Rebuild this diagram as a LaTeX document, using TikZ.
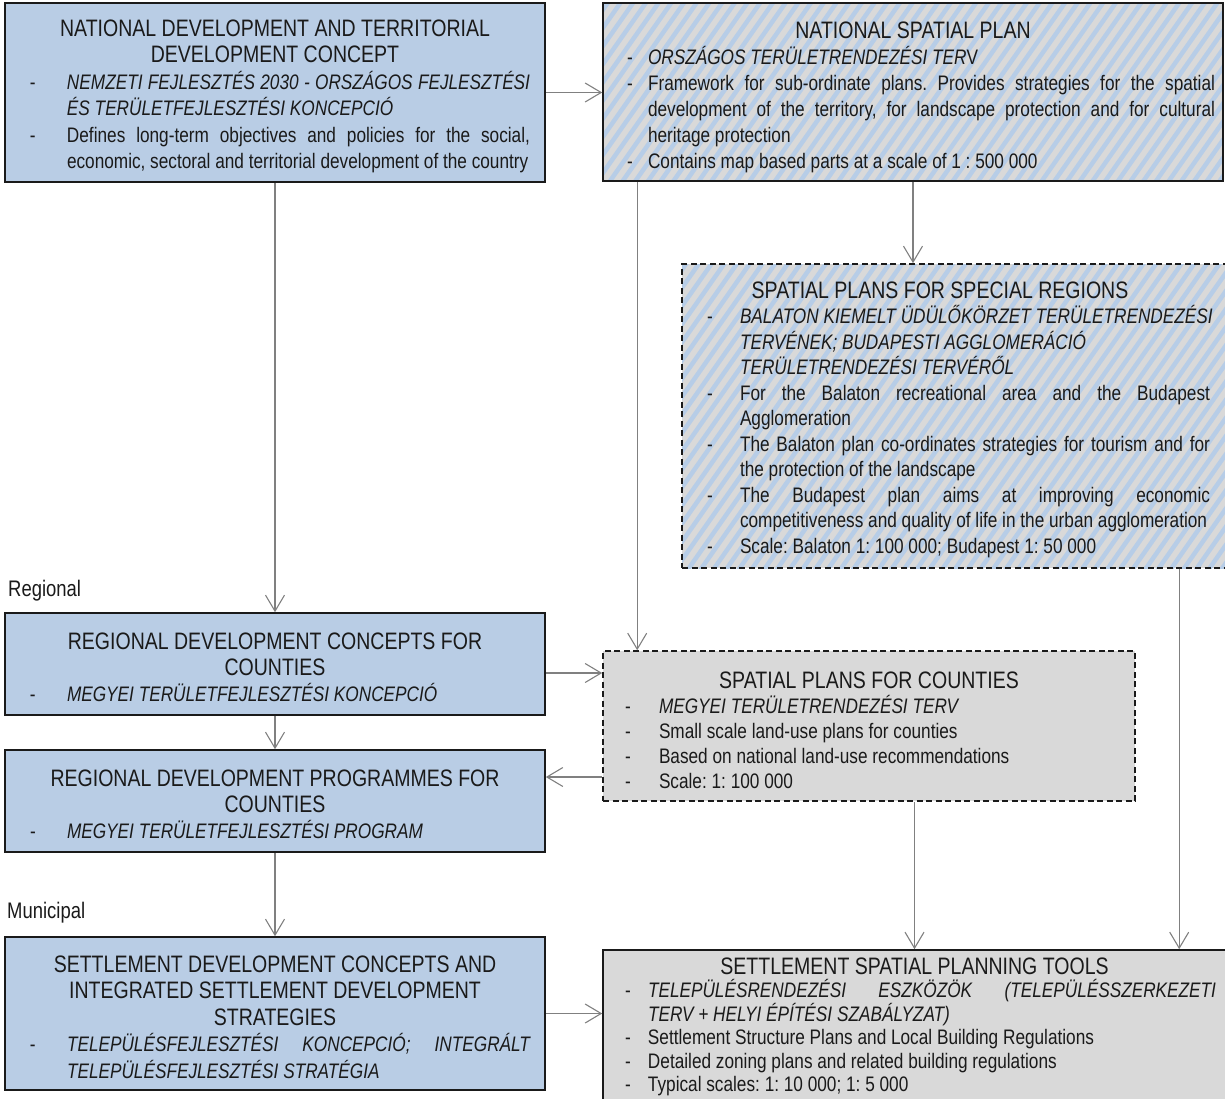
\documentclass[tikz,border=0pt]{standalone}
\usepackage{fontspec}
\setmainfont{Liberation Sans}[FakeStretch=0.82]
\usetikzlibrary{arrows.meta,calc}

\definecolor{boxblue}{HTML}{B9CDE5}
\definecolor{boxgray}{HTML}{D9D9D9}
\definecolor{stripeblue}{HTML}{B7CDE7}
\definecolor{linegray}{HTML}{808080}
\definecolor{ink}{HTML}{1A1A1A}

\newdimen\bxDoff \newdimen\bxInd \newdimen\bxRm \newdimen\bxTW
\newcommand\BodyFont{\fontsize{21}{25}\selectfont}
\newcommand\TitleFont{\fontsize{23.8}{25}\selectfont}
\newcommand\LabelFont{\fontsize{22.5}{25}\selectfont}
\newcommand\BoxSetup[6]{\hsize=#1pt \bxDoff=#2pt \bxInd=#3pt \bxRm=#4pt
  \bxTW=\hsize \advance\bxTW-\bxInd \advance\bxTW-\bxRm
  \baselineskip=#5pt \lineskiplimit=-30pt \lineskip=0pt \parindent=0pt
  \frenchspacing \vskip #6pt}
\newcommand\LnT[1]{\hbox to \hsize{\hss\TitleFont #1\hss}}
\newcommand\LnTS[2]{\hbox to \hsize{\hss\TitleFont #2\hss\hskip#1pt}}
\newcommand\LnDash{\hbox to \bxInd{\hskip\bxDoff\BodyFont -\hss}}
\newcommand\LnD[1]{\hbox to \hsize{\LnDash\BodyFont #1\hss}}
\newcommand\LnDJ[1]{\hbox to \hsize{\LnDash\hbox to \bxTW{\BodyFont #1}\hss}}
\newcommand\LnC[1]{\hbox to \hsize{\hskip\bxInd\BodyFont #1\hss}}
\newcommand\LnCJ[1]{\hbox to \hsize{\hskip\bxInd\hbox to \bxTW{\BodyFont #1}\hss}}

\tikzset{
  bx/.style={rectangle, draw=ink, line width=1.6pt, inner sep=0pt, text=ink},
  bluebox/.style={bx, fill=boxblue},
  graybox/.style={bx, fill=boxgray},
  dashbox/.style={dash pattern=on 6pt off 3.5pt},
  hatched/.style={path picture={
      \foreach \k in {-30,...,75}{
        \draw[stripeblue, solid, line width=4.5pt]
          ($(path picture bounding box.south west)+(\k*12.7,-10)$) -- ++(55:600);
      }}},
  conn/.style={draw=linegray, line width=1.1pt,
    -{Straight Barb[length=16pt,width=19pt,line width=1.1pt]}},
  lbl/.style={anchor=west, inner sep=0pt, text=ink, font=\LabelFont}
}

\begin{document}
\begin{tikzpicture}[x=1pt,y=1pt]
\useasboundingbox (0,0) rectangle (1225,-1098);
\begin{scope}
\clip (0,0) rectangle (1225,-1098);

% National development concept
\node[bluebox, minimum width=540pt, minimum height=179pt] (A) at (275,-92.5) {\vbox{%
  \BoxSetup{540}{25}{62}{15}{26.5}{8}%
  \LnT{NATIONAL DEVELOPMENT AND TERRITORIAL}
  \LnT{DEVELOPMENT CONCEPT}
  \LnDJ{\itshape NEMZETI FEJLESZTÉS 2030 - ORSZÁGOS FEJLESZTÉSI}
  \LnC{\itshape ÉS TERÜLETFEJLESZTÉSI KONCEPCIÓ}
  \LnDJ{Defines long-term objectives and policies for the social,}
  \LnC{economic, sectoral and territorial development of the country}}};

% National spatial plan
\node[graybox, hatched, minimum width=620pt, minimum height=178pt] (B) at (913,-92) {\vbox{%
  \BoxSetup{620}{24}{45}{8}{26}{10}%
  \LnT{NATIONAL SPATIAL PLAN}
  \LnD{{\itshape ORSZÁGOS TERÜLETRENDEZÉSI TER}V}
  \LnDJ{Framework for sub-ordinate plans. Provides strategies for the spatial}
  \LnCJ{development of the territory, for landscape protection and for cultural}
  \LnC{heritage protection}
  \LnD{Contains map based parts at a scale of 1 : 500 000}}};

% Special regions
\node[graybox, dashbox, hatched, minimum width=544pt, minimum height=304pt] (C) at (954,-416) {\vbox{%
  \BoxSetup{544}{25}{58}{16}{25.5}{7}%
  \LnTS{28}{SPATIAL PLANS FOR SPECIAL REGIONS}
  \LnD{\itshape BALATON KIEMELT ÜDÜLŐKÖRZET TERÜLETRENDEZÉSI}
  \LnC{\itshape TERVÉNEK; BUDAPESTI AGGLOMERÁCIÓ}
  \LnC{\itshape TERÜLETRENDEZÉSI TERVÉRŐL}
  \LnDJ{For the Balaton recreational area and the Budapest}
  \LnC{Agglomeration}
  \LnDJ{The Balaton plan co-ordinates strategies for tourism and for}
  \LnC{the protection of the landscape}
  \LnDJ{The Budapest plan aims at improving economic}
  \LnC{competitiveness and quality of life in the urban agglomeration}
  \LnD{Scale: Balaton 1: 100 000; Budapest 1: 50 000}}};

% Regional development concepts
\node[bluebox, minimum width=540pt, minimum height=102pt] (D) at (275,-664) {\vbox{%
  \BoxSetup{540}{25}{62}{15}{26}{7}%
  \LnT{REGIONAL DEVELOPMENT CONCEPTS FOR}
  \LnT{COUNTIES}
  \LnD{\itshape MEGYEI TERÜLETFEJLESZTÉSI KONCEPCIÓ}}};

% Spatial plans for counties
\node[graybox, dashbox, minimum width=532pt, minimum height=150pt] (E) at (869,-726) {\vbox{%
  \BoxSetup{532}{22}{56}{10}{25}{8}%
  \LnT{SPATIAL PLANS FOR COUNTIES}
  \LnD{\itshape MEGYEI TERÜLETRENDEZÉSI TERV}
  \LnD{Small scale land-use plans for counties}
  \LnD{Based on national land-use recommendations}
  \LnD{Scale: 1: 100 000}}};

% Regional development programmes
\node[bluebox, minimum width=540pt, minimum height=102pt] (F) at (275,-801) {\vbox{%
  \BoxSetup{540}{25}{62}{15}{26}{7}%
  \LnT{REGIONAL DEVELOPMENT PROGRAMMES FOR}
  \LnT{COUNTIES}
  \LnD{\itshape MEGYEI TERÜLETFEJLESZTÉSI PROGRAM}}};

% Settlement development concepts
\node[bluebox, minimum width=540pt, minimum height=153pt] (G) at (275,-1013.5) {\vbox{%
  \BoxSetup{540}{25}{62}{15}{26.5}{7}%
  \LnT{SETTLEMENT DEVELOPMENT CONCEPTS AND}
  \LnT{INTEGRATED SETTLEMENT DEVELOPMENT}
  \LnT{STRATEGIES}
  \LnDJ{\itshape TELEPÜLÉSFEJLESZTÉSI KONCEPCIÓ; INTEGRÁLT}
  \LnC{\itshape TELEPÜLÉSFEJLESZTÉSI STRATÉGIA}}};

% Settlement spatial planning tools
\node[graybox, minimum width=623pt, minimum height=150pt] (H) at (914.5,-1025) {\vbox{%
  \BoxSetup{623}{22}{45}{10}{23.5}{4}%
  \LnT{SETTLEMENT SPATIAL PLANNING TOOLS}
  \LnDJ{\itshape TELEPÜLÉSRENDEZÉSI ESZKÖZÖK (TELEPÜLÉSSZERKEZETI}
  \LnC{\itshape TERV + HELYI ÉPÍTÉSI SZABÁLYZAT)}
  \LnD{Settlement Structure Plans and Local Building Regulations}
  \LnD{Detailed zoning plans and related building regulations}
  \LnD{Typical scales: 1: 10 000; 1: 5 000}}};

% Level labels
\node[lbl] (reg) at (8,-591) {Regional};
\node[lbl] (mun) at (7,-913) {Municipal};

% Connectors
\draw[conn] (A.east) -- (A.east -| B.west);
\draw[conn] (A.south) -- (D.north);
\draw[conn] (B.south) -- (B.south |- C.north);
\coordinate (bE) at ($(B.south west)+(35,0)$);
\draw[conn] (bE) -- (bE |- E.north);
\coordinate (dE) at ($(D.east)+(0,-9)$);
\draw[conn] (dE) -- (dE -| E.west);
\coordinate (eF) at ($(E.west)+(0,-51)$);
\draw[conn] (eF) -- (eF -| F.east);
\draw[conn] (D.south) -- (F.north);
\draw[conn] (F.south) -- (G.north);
\draw[conn] (G.east) -- (G.east -| H.west);
\draw[conn] (E.south -| H.north) -- (H.north);
\coordinate (cH) at ($(C.south west)+(498,0)$);
\draw[conn] (cH) -- (cH |- H.north);
\end{scope}
\end{tikzpicture}
\end{document}
